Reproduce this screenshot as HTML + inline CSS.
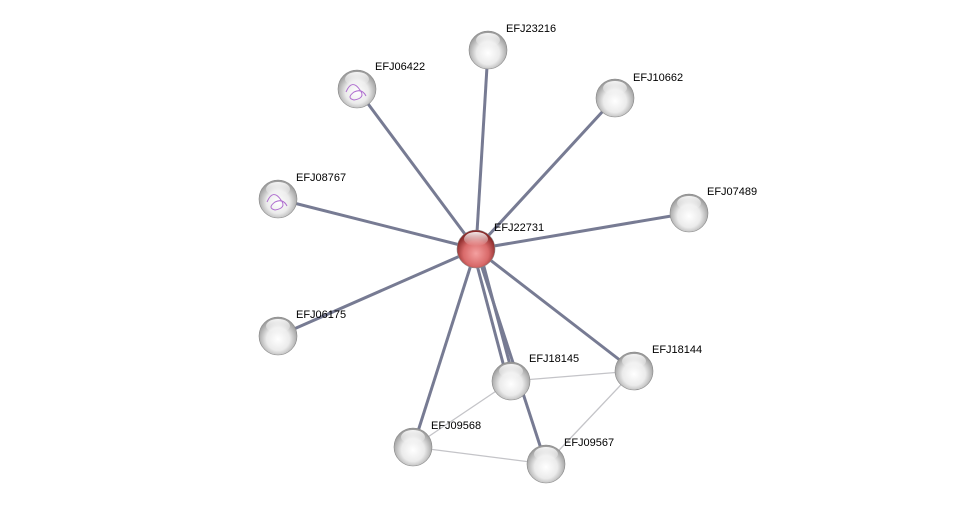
<!DOCTYPE html>
<html><head><meta charset="utf-8"><style>html,body{margin:0;padding:0;background:#fff;}svg{display:block}</style></head>
<body>
<svg width="975" height="510" xmlns="http://www.w3.org/2000/svg" font-family="Liberation Sans, sans-serif" font-size="11">
<defs>
<radialGradient id="g" cx="50%" cy="58%" r="55%">
<stop offset="0" stop-color="#ffffff"/><stop offset="0.55" stop-color="#ebebeb"/><stop offset="1" stop-color="#9a9a9a"/>
</radialGradient>
<radialGradient id="r" cx="50%" cy="62%" r="55%">
<stop offset="0" stop-color="#f4a0a0"/><stop offset="0.6" stop-color="#d96a6a"/><stop offset="1" stop-color="#8a2a2a"/>
</radialGradient>
<linearGradient id="h" x1="0" y1="0" x2="0" y2="1">
<stop offset="0" stop-color="#fff" stop-opacity="0.9"/><stop offset="1" stop-color="#fff" stop-opacity="0"/>
</linearGradient>
</defs>
<g stroke="#c4c4c8" stroke-width="1.3">
<line x1="511" y1="381" x2="634" y2="371"/>
<line x1="511" y1="381" x2="413" y2="447"/>
<line x1="413" y1="447" x2="546" y2="464"/>
<line x1="546" y1="464" x2="634" y2="371"/>
</g>
<g stroke="#777b93" stroke-width="3">
<line x1="476" y1="249" x2="488" y2="50"/>
<line x1="476" y1="249" x2="357" y2="89"/>
<line x1="476" y1="249" x2="615" y2="98"/>
<line x1="476" y1="249" x2="278" y2="199"/>
<line x1="476" y1="249" x2="689" y2="213"/>
<line x1="476" y1="249" x2="278" y2="336"/>
<line x1="476" y1="249" x2="634" y2="371"/>
<line x1="476" y1="249" x2="413" y2="447"/>
<line x1="473" y1="250" x2="508" y2="382"/>
<line x1="479" y1="248" x2="514" y2="380"/>
<line x1="476" y1="249" x2="546" y2="464"/>
</g>
<g stroke="#888" stroke-width="0.6">
<circle cx="488" cy="50" r="19" fill="url(#g)"/>
<circle cx="357" cy="89" r="19" fill="url(#g)"/>
<circle cx="615" cy="98" r="19" fill="url(#g)"/>
<circle cx="278" cy="199" r="19" fill="url(#g)"/>
<circle cx="689" cy="213" r="19" fill="url(#g)"/>
<circle cx="278" cy="336" r="19" fill="url(#g)"/>
<circle cx="511" cy="381" r="19" fill="url(#g)"/>
<circle cx="634" cy="371" r="19" fill="url(#g)"/>
<circle cx="413" cy="447" r="19" fill="url(#g)"/>
<circle cx="546" cy="464" r="19" fill="url(#g)"/>
<circle cx="476" cy="249" r="19" fill="url(#r)"/>
</g>
<g fill="none" stroke="#b070d0" stroke-width="1">
<path d="M346 92 q6 -14 14 -2 q6 8 -6 10 q-8 -2 0 -8 q8 -4 12 4"/>
<path d="M267 202 q6 -14 14 -2 q6 8 -6 10 q-8 -2 0 -8 q8 -4 12 4"/>
</g>
<g fill="url(#h)">
<ellipse cx="488" cy="40" rx="12" ry="7"/><ellipse cx="357" cy="79" rx="12" ry="7"/>
<ellipse cx="615" cy="88" rx="12" ry="7"/><ellipse cx="278" cy="189" rx="12" ry="7"/>
<ellipse cx="689" cy="203" rx="12" ry="7"/><ellipse cx="278" cy="326" rx="12" ry="7"/>
<ellipse cx="511" cy="371" rx="12" ry="7"/><ellipse cx="634" cy="361" rx="12" ry="7"/>
<ellipse cx="413" cy="437" rx="12" ry="7"/><ellipse cx="546" cy="454" rx="12" ry="7"/>
<ellipse cx="476" cy="239" rx="12" ry="7"/>
</g>
<g fill="#000">
<text x="506" y="32">EFJ23216</text>
<text x="375" y="70">EFJ06422</text>
<text x="633" y="81">EFJ10662</text>
<text x="296" y="181">EFJ08767</text>
<text x="707" y="195">EFJ07489</text>
<text x="494" y="231">EFJ22731</text>
<text x="296" y="318">EFJ06175</text>
<text x="529" y="362">EFJ18145</text>
<text x="652" y="353">EFJ18144</text>
<text x="431" y="429">EFJ09568</text>
<text x="564" y="446">EFJ09567</text>
</g>
</svg>
</body></html>
